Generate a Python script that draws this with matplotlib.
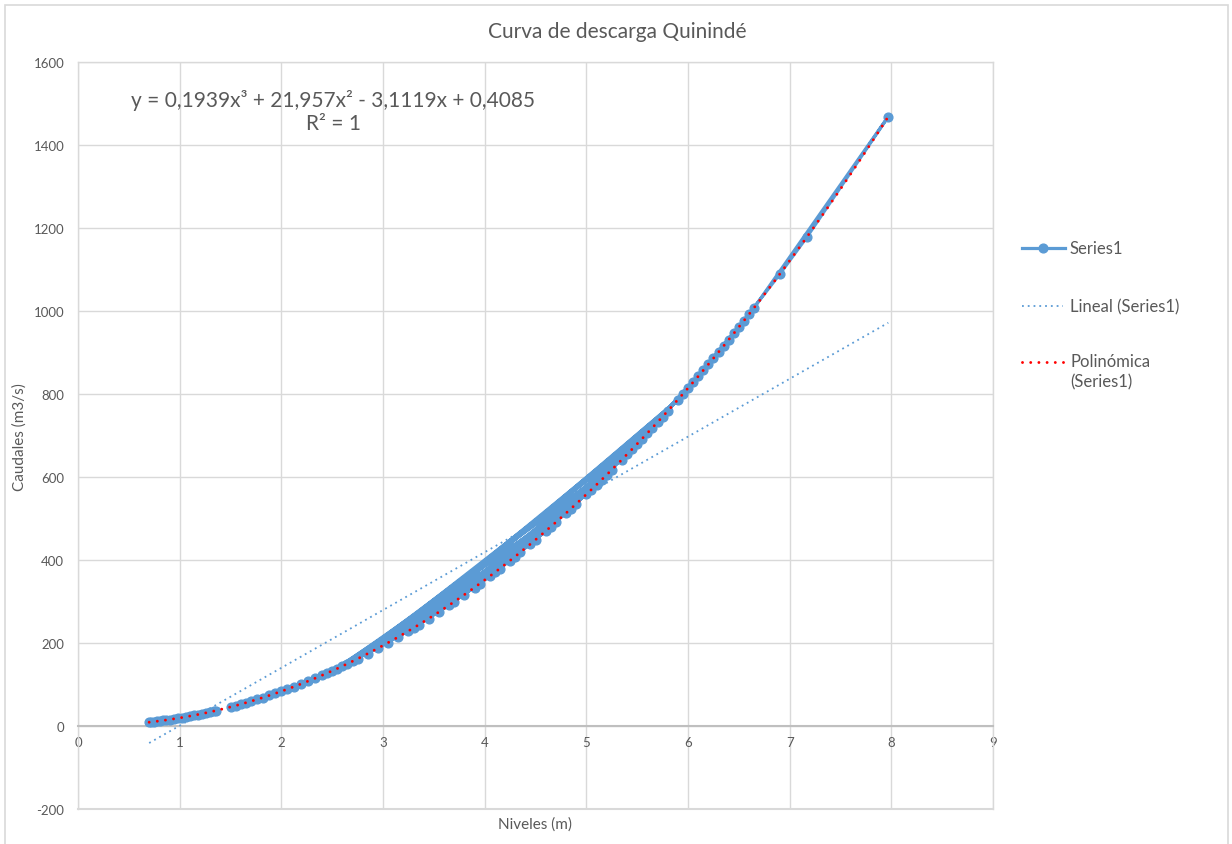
import numpy as np
import matplotlib
matplotlib.use("Agg")
import matplotlib.pyplot as plt
from matplotlib.lines import Line2D
from matplotlib.patches import Rectangle

plt.rcParams['font.family'] = ['Lato', 'DejaVu Sans']

# Estación Quinindé: niveles (m) y caudales (m3/s) en orden cronológico
nivel_estiaje = [0.70, 0.72, 0.75, 0.78, 0.81, 0.84, 0.87, 0.90, 0.94, 0.98,
                 1.02, 1.06, 1.10, 1.14, 1.18, 1.22, 1.26, 1.30, 1.34, 1.36]
caudal_estiaje = [9.1, 9.6, 10.5, 11.4, 12.4, 13.4, 14.5, 15.5, 17.1, 18.6,
                  20.3, 22.0, 23.8, 25.7, 27.6, 29.6, 31.7, 33.9, 36.1, 37.3]

nivel_crecida = [1.50, 1.55, 1.60, 1.65, 1.70, 1.76, 1.82, 1.88, 1.94, 2.00,
                 2.06, 2.12, 2.19, 2.26, 2.33, 2.40,
                 2.45, 3.95, 2.50, 4.60, 2.55, 5.00, 2.60, 3.30, 2.65, 5.35,
                 2.70, 4.25, 2.75, 5.60, 2.85, 3.70, 2.95, 5.80, 3.05, 4.80,
                 3.15, 5.90, 3.25, 4.45, 3.35, 5.45, 3.45, 4.10, 3.55, 5.20,
                 3.65, 4.70, 3.80, 5.70, 3.90, 4.35, 4.05, 5.10, 4.15, 5.50,
                 4.30, 4.90, 4.50, 5.25, 4.65, 5.55, 4.85, 5.95, 5.05, 6.05,
                 5.15, 6.10, 5.40, 6.20, 5.65, 6.30, 5.75, 6.40, 6.00, 6.50,
                 6.15, 6.60, 6.25, 6.65, 7.97, 7.17, 6.90, 6.45, 6.35, 6.55]
caudal_crecida = [45.8, 49.1, 52.4, 55.9, 59.5, 64.0, 68.6, 73.5, 78.4, 83.6,
                  88.9, 94.3, 100.9, 107.8, 114.8, 122.1,
                  127.4, 342.6, 132.9, 469.6, 138.5, 558.0, 144.2, 236.2, 150.0, 641.9,
                  155.9, 398.6, 161.9, 705.6, 174.4, 299.3, 187.3, 758.8, 200.7, 512.8,
                  214.5, 786.2, 228.8, 438.4, 243.7, 667.0, 259.0, 370.1, 274.7, 605.2,
                  291.0, 490.9, 316.3, 732.0, 333.7, 418.3, 360.8, 581.4, 379.5, 679.8,
                  408.4, 535.2, 448.7, 617.3, 480.2, 692.6, 523.9, 800.1, 569.6, 828.2,
                  593.2, 842.5, 654.4, 871.4, 718.7, 900.8, 745.3, 930.7, 814.1, 961.1,
                  856.9, 992.1, 886.0, 1007.7, 1468.5, 1178.3, 1088.0, 945.8, 915.7, 976.5]

# Líneas de tendencia (coeficientes de Excel)
coef_polinomica = [0.1939, 21.957, -3.1119, 0.4085]
coef_lineal = [139.3, -138.5]

x_ticks = list(range(0, 10))
y_ticks = list(range(-200, 1601, 200))

AZUL = '#5B9BD5'
ROJO = '#FF0000'
GRIS_TXT = '#595959'
GRIS_GRID = '#D9D9D9'

# Serie completa con un hueco entre los dos tramos de registro
niveles = np.array(nivel_estiaje + [np.nan] + nivel_crecida)
caudales = np.array(caudal_estiaje + [np.nan] + caudal_crecida)

W, H = 1232, 845
fig = plt.figure(figsize=(W / 100, H / 100), dpi=100)
fig.patch.set_facecolor('white')

# borde del área del gráfico
fig.add_artist(Rectangle((5 / W, -0.01), (1228 - 5) / W, 1 - 6 / H + 0.01,
                         transform=fig.transFigure, fill=False,
                         edgecolor=GRIS_GRID, lw=1.2))

left, right, top, bottom = 78, 993, 63, 810
ax = fig.add_axes([left / W, 1 - bottom / H, (right - left) / W, (bottom - top) / H])

MS = 6.3
ax.plot(niveles, caudales, color=AZUL, lw=2.3, marker='o', ms=MS,
        mfc=AZUL, mec=AZUL, zorder=3)

xmin, xmax = np.nanmin(niveles), np.nanmax(niveles)
xt = np.linspace(xmin, xmax, 400)
ax.plot(xt, np.polyval(coef_lineal, xt), color=AZUL, lw=1.3,
        linestyle=(0, (1, 2.2)), zorder=4)
ax.plot(xt, np.polyval(coef_polinomica, xt), color=ROJO, lw=2.1,
        linestyle=(0, (0.01, 2.8)), dash_capstyle='round', zorder=5)

ax.set_xlim(0, 9)
ax.set_ylim(-200, 1600)
ax.set_xticks(x_ticks)
ax.set_yticks(y_ticks)
ax.set_xticklabels([str(v) for v in x_ticks])
ax.set_yticklabels([str(v) for v in y_ticks])

ax.grid(True, color=GRIS_GRID, lw=1.0, zorder=0)
ax.set_axisbelow(True)
for s in ('left', 'right', 'top'):
    ax.spines[s].set_color(GRIS_GRID)
    ax.spines[s].set_linewidth(1.0)
ax.spines['bottom'].set_position(('data', 0))
ax.spines['bottom'].set_color('#BFBFBF')
ax.spines['bottom'].set_linewidth(1.5)
ax.axhline(-200, color=GRIS_GRID, lw=1.5, clip_on=False, zorder=0)

ax.tick_params(axis='both', length=0, labelsize=9.5, labelcolor=GRIS_TXT)
ax.tick_params(axis='x', pad=7)
ax.tick_params(axis='y', pad=10)

fig.text(535 / W, 1 - 825 / H, 'Niveles (m)', ha='center', va='center',
         fontsize=11, color=GRIS_TXT)
fig.text(20 / W, 1 - 437 / H, 'Caudales (m3/s)', ha='center', va='center',
         rotation=90, fontsize=11, color=GRIS_TXT)
fig.text(617 / W, 1 - 32 / H, 'Curva de descarga Quinindé', ha='center',
         va='center', fontsize=15, color=GRIS_TXT)

fig.text(333 / W, 1 - 112 / H,
         'y = 0,1939x³ + 21,957x² - 3,1119x + 0,4085\nR² = 1',
         ha='center', va='center', fontsize=15, color=GRIS_TXT,
         linespacing=1.15, multialignment='center')

# leyenda
def fx(px):
    return px / W

def fy(py):
    return 1 - py / H

LEG_FS = 12
fig.add_artist(Line2D([fx(1022), fx(1065)], [fy(249), fy(249)], color=AZUL,
                      lw=2.3, transform=fig.transFigure))
fig.add_artist(Line2D([fx(1043)], [fy(249)], color=AZUL, marker='o', ms=MS,
                      transform=fig.transFigure))
fig.text(fx(1070), fy(249), 'Series1', ha='left', va='center', fontsize=LEG_FS,
         color=GRIS_TXT)

fig.add_artist(Line2D([fx(1022), fx(1063)], [fy(307), fy(307)], color=AZUL,
                      lw=1.3, linestyle=(0, (1, 2.2)), transform=fig.transFigure))
fig.text(fx(1070), fy(307), 'Lineal (Series1)', ha='left', va='center',
         fontsize=LEG_FS, color=GRIS_TXT)

fig.add_artist(Line2D([fx(1022), fx(1064)], [fy(363), fy(363)], color=ROJO,
                      lw=2.1, linestyle=(0, (0.01, 2.8)), dash_capstyle='round',
                      transform=fig.transFigure))
fig.text(fx(1070), fy(362), 'Polinómica', ha='left', va='center',
         fontsize=LEG_FS, color=GRIS_TXT)
fig.text(fx(1070), fy(382), '(Series1)', ha='left', va='center',
         fontsize=LEG_FS, color=GRIS_TXT)

fig.savefig('out.png', dpi=100, facecolor='white')
